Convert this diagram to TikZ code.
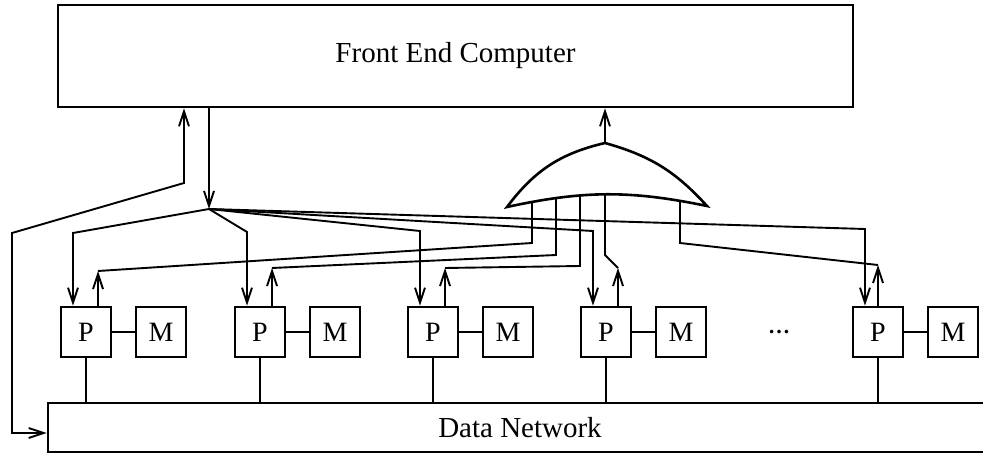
\documentclass[tikz,border=0pt]{standalone}
\usepackage{fontspec}
\setmainfont{Liberation Serif}
\usetikzlibrary{arrows.meta}

\tikzset{
  box/.style={draw, rectangle, line width=2.6pt, inner sep=0pt},
  pe/.style={box, minimum width=50pt, minimum height=50pt,
    font=\fontsize{28}{32}\selectfont},
  sig/.style={line width=1.9pt},
  >={Straight Barb[length=15pt,width=10pt]},
}

\begin{document}
\begin{tikzpicture}[x=1pt, y=-1pt]
  \useasboundingbox (0,0) rectangle (983,457);

  % blocks
  \node[box, minimum width=795pt, minimum height=102pt,
    font=\fontsize{29}{34}\selectfont] (front) at (455.5,56) {Front End Computer};
  \node[box, minimum width=944pt, minimum height=49pt,
    font=\fontsize{29}{34}\selectfont] (net) at (520,427.5) {Data Network};

  % processors and memories
  \node[pe] (p1) at (86,332) {P};
  \node[pe] (m1) at (161,332) {M};
  \node[pe] (p2) at (260,332) {P};
  \node[pe] (m2) at (335,332) {M};
  \node[pe] (p3) at (433,332) {P};
  \node[pe] (m3) at (508,332) {M};
  \node[pe] (p4) at (606,332) {P};
  \node[pe] (m4) at (681,332) {M};
  \node[pe] (p5) at (878,332) {P};
  \node[pe] (m5) at (953,332) {M};
  \node[font=\fontsize{22}{26}\selectfont\bfseries] (dots) at (779,332) {…};

  % local links and network taps
  \draw[sig] (p1) -- (m1);
  \draw[sig] (p2) -- (m2);
  \draw[sig] (p3) -- (m3);
  \draw[sig] (p4) -- (m4);
  \draw[sig] (p5) -- (m5);
  \draw[sig] (p1.south) -- (p1.south |- net.north);
  \draw[sig] (p2.south) -- (p2.south |- net.north);
  \draw[sig] (p3.south) -- (p3.south |- net.north);
  \draw[sig] (p4.south) -- (p4.south |- net.north);
  \draw[sig] (p5.south) -- (p5.south |- net.north);

  % front end links
  \coordinate (hub) at (209,209);
  \coordinate (ret) at (184,183);
  \draw[sig,->] (hub |- front.south) -- (hub);
  \draw[sig,<->] (ret |- front.south) -- (ret) -- (12,233) -- (12,433)
    -- (net.west |- 0,433);

  % broadcast to processors
  \draw[sig,->] (hub) -- (73,233) -- ([xshift=-13pt]p1.north);
  \draw[sig,->] (hub) -- (247,232) -- ([xshift=-13pt]p2.north);
  \draw[sig,->] (hub) -- (420,231) -- ([xshift=-13pt]p3.north);
  \draw[sig,->] (hub) -- (593,231) -- ([xshift=-13pt]p4.north);
  \draw[sig,->] (hub) -- (865,229) -- ([xshift=-13pt]p5.north);

  % replies into the combining gate
  \draw[sig,->] ([xshift=12pt]p1.north) -- (98,271);
  \draw[sig] (98,271) -- (532,243) -- (532,188);
  \draw[sig,->] ([xshift=12pt]p2.north) -- (272,268);
  \draw[sig] (272,268) -- (556,255) -- (556,188);
  \draw[sig,->] ([xshift=12pt]p3.north) -- (445,268);
  \draw[sig] (445,268) -- (580,266) -- (580,188);
  \draw[sig,->] ([xshift=12pt]p4.north) -- (618,268);
  \draw[sig] (618,268) -- (605,255) -- (605,188);
  \draw[sig,->] (p5.north) -- (878,265);
  \draw[sig] (878,265) -- (680,243) -- (680,188);

  % gate
  \coordinate (gl) at (507,207);
  \coordinate (gr) at (707,206);
  \coordinate (gtop) at (605,143);
  \draw[line width=2.6pt, fill=white] (gl) to[bend left=20] (gtop)
    to[bend left=16] (gr) to[bend right=12] (gl) -- cycle;
  \draw[sig,->] (gtop) -- (gtop |- front.south);
\end{tikzpicture}
\end{document}
